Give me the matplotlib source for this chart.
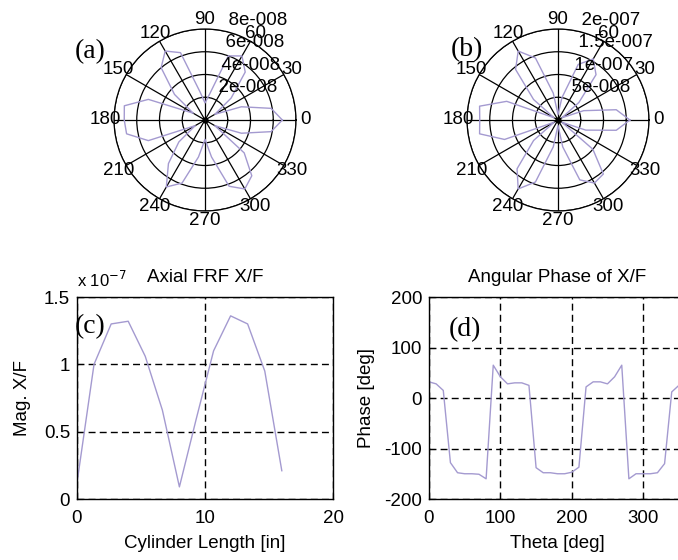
import matplotlib
matplotlib.use("Agg")
import matplotlib.pyplot as plt
import numpy as np
from matplotlib.ticker import FuncFormatter

plt.rcParams['font.family'] = ['Liberation Sans', 'DejaVu Sans']
plt.rcParams['font.size'] = 13.5
plt.rcParams['axes.unicode_minus'] = False

W_PX, H_PX = 678, 560
LINE_COLOR = '#a49ad0'
GRID_DASH = (0, (5, 3))

# 원주 방향 각도 [deg], 10도 간격
theta_deg = np.arange(0, 361, 10)

# (a) 위치에서의 원주 방향 응답 크기 [x 1e-8]
mag_a = np.array([6.8, 5.9, 3.4, 1.0, 3.0, 5.5, 6.5, 6.0, 2.3, 1.5,
                  2.5, 6.3, 7.0, 6.0, 3.5, 1.2, 5.3, 7.2, 7.1, 7.0,
                  5.3, 1.0, 3.0, 5.0, 6.8, 5.9, 3.3, 1.7, 3.3, 6.2,
                  7.0, 6.4, 4.5, 1.0, 3.4, 5.9, 6.8]) * 1e-8

# (b) 위치에서의 원주 방향 응답 크기 [x 1e-7]
mag_b = np.array([1.58, 1.3, 0.6, 0.1, 0.6, 1.3, 1.55, 1.3, 0.5, 0.12,
                  0.6, 1.45, 1.75, 1.45, 0.7, 0.1, 1.2, 1.75, 1.72, 1.75,
                  1.25, 0.1, 0.7, 1.4, 1.75, 1.45, 0.6, 0.12, 0.6, 1.4,
                  1.6, 1.55, 1.0, 0.1, 0.65, 1.3, 1.58]) * 1e-7

# (c) 축 방향 FRF 크기
length_in = [0, 1.33, 2.67, 4.0, 5.33, 6.67, 8.0, 9.33, 10.67, 12.0, 13.33, 14.67, 16.0]
mag_axial = np.array([0.12, 1.0, 1.30, 1.32, 1.06, 0.66, 0.09, 0.6, 1.10, 1.36,
                      1.30, 0.95, 0.21]) * 1e-7

# (d) 원주 방향 위상 [deg]
phase_deg = [32, 28, 15, -128, -148, -150, -150, -151, -160, 65,
             42, 28, 30, 30, 25, -138, -148, -148, -150, -150,
             -147, -137, 22, 32, 32, 28, 42, 65, -160, -150,
             -150, -150, -148, -130, 12, 25, 32]


def px_rect(x0, y0, w, h):
    """픽셀 좌표(왼쪽 위 기준) -> figure 비율 좌표"""
    return [x0 / W_PX, 1 - (y0 + h) / H_PX, w / W_PX, h / H_PX]


def polar_panel(rect, r, ticks, labels):
    ax = fig.add_axes(rect, projection='polar')
    rmax = ticks[-1]
    ax.plot(np.deg2rad(theta_deg), r, color=LINE_COLOR, lw=1.0, zorder=3)
    ax.set_ylim(0, rmax)
    ax.set_xticks(np.deg2rad(np.arange(0, 360, 30)))
    ax.set_xticklabels([])
    ax.set_yticks(ticks)
    ax.set_yticklabels([])
    ax.grid(True, color='k', lw=0.9, ls='-')
    ax.spines['polar'].set_linewidth(0.9)
    ax.plot(0, 0, 'k.', ms=7, zorder=4)
    # 각도 라벨 (원 바깥)
    for a in range(0, 360, 30):
        ax.text(np.deg2rad(a), 1.1 * rmax, str(a), ha='center', va='center',
                clip_on=False)
    # 반경 라벨 (82도 방향)
    rinc = ticks[0]
    for v, s in zip(ticks, labels):
        ax.text(np.deg2rad(82), v + rinc / 20, '  ' + s, ha='left', va='bottom',
                clip_on=False, zorder=5)
    return ax


fig = plt.figure(figsize=(W_PX / 100, H_PX / 100), dpi=100)
fig.patch.set_facecolor('white')

polar_panel(px_rect(114, 29, 182, 182), mag_a,
            [2e-8, 4e-8, 6e-8, 8e-8], ['2e-008', '4e-008', '6e-008', '8e-008'])
polar_panel(px_rect(467, 29, 182, 182), mag_b,
            [5e-8, 1e-7, 1.5e-7, 2e-7], ['5e-008', '1e-007', '1.5e-007', '2e-007'])


def style_cart(ax):
    ax.grid(True, color='k', lw=1.0, ls=GRID_DASH)
    ax.tick_params(direction='in', length=4, width=0.8, color='k')
    ax.tick_params(axis='x', pad=8)
    ax.tick_params(axis='y', pad=5)
    for s in ax.spines.values():
        s.set_linewidth(1.0)


# (c) 축 방향 FRF
axc = fig.add_axes(px_rect(77, 297, 256, 202))
axc.plot(length_in, mag_axial, color=LINE_COLOR, lw=1.0)
axc.set_xlim(0, 20)
axc.set_ylim(0, 1.5e-7)
axc.set_xticks([0, 10, 20])
axc.set_yticks([0, 0.5e-7, 1e-7, 1.5e-7])
axc.yaxis.set_major_formatter(FuncFormatter(lambda v, _: f'{v / 1e-7:g}'))
style_cart(axc)
axc.set_title('Axial FRF X/F', fontsize=13.5, pad=11)
axc.text(0.0, 1.035, 'x 10$^{-7}$', transform=axc.transAxes, fontsize=12,
         ha='left', va='bottom')
axc.set_xlabel('Cylinder Length [in]')
axc.set_ylabel('Mag. X/F')
axc.xaxis.set_label_coords(0.5, -0.18)
axc.yaxis.set_label_coords(-0.18, 0.5)

# (d) 원주 방향 위상
axd = fig.add_axes(px_rect(429, 297, 257, 202))
axd.plot(theta_deg, phase_deg, color=LINE_COLOR, lw=1.0)
axd.set_xlim(0, 360)
axd.set_ylim(-200, 200)
axd.set_xticks([0, 100, 200, 300])
axd.set_yticks([-200, -100, 0, 100, 200])
style_cart(axd)
axd.set_title('Angular Phase of X/F', fontsize=13.5, pad=11)
axd.set_xlabel('Theta [deg]')
axd.set_ylabel('Phase [deg]')
axd.xaxis.set_label_coords(0.5, -0.18)
axd.yaxis.set_label_coords(-0.21, 0.5)

# 패널 기호
for (x, y), s in zip([(90, 52), (467, 50), (90, 327), (465, 330)],
                     ['(a)', '(b)', '(c)', '(d)']):
    fig.text(x / W_PX, 1 - y / H_PX, s, family='Liberation Serif', fontsize=20,
             ha='center', va='center')

fig.savefig('out.png', dpi=100, facecolor='white')
